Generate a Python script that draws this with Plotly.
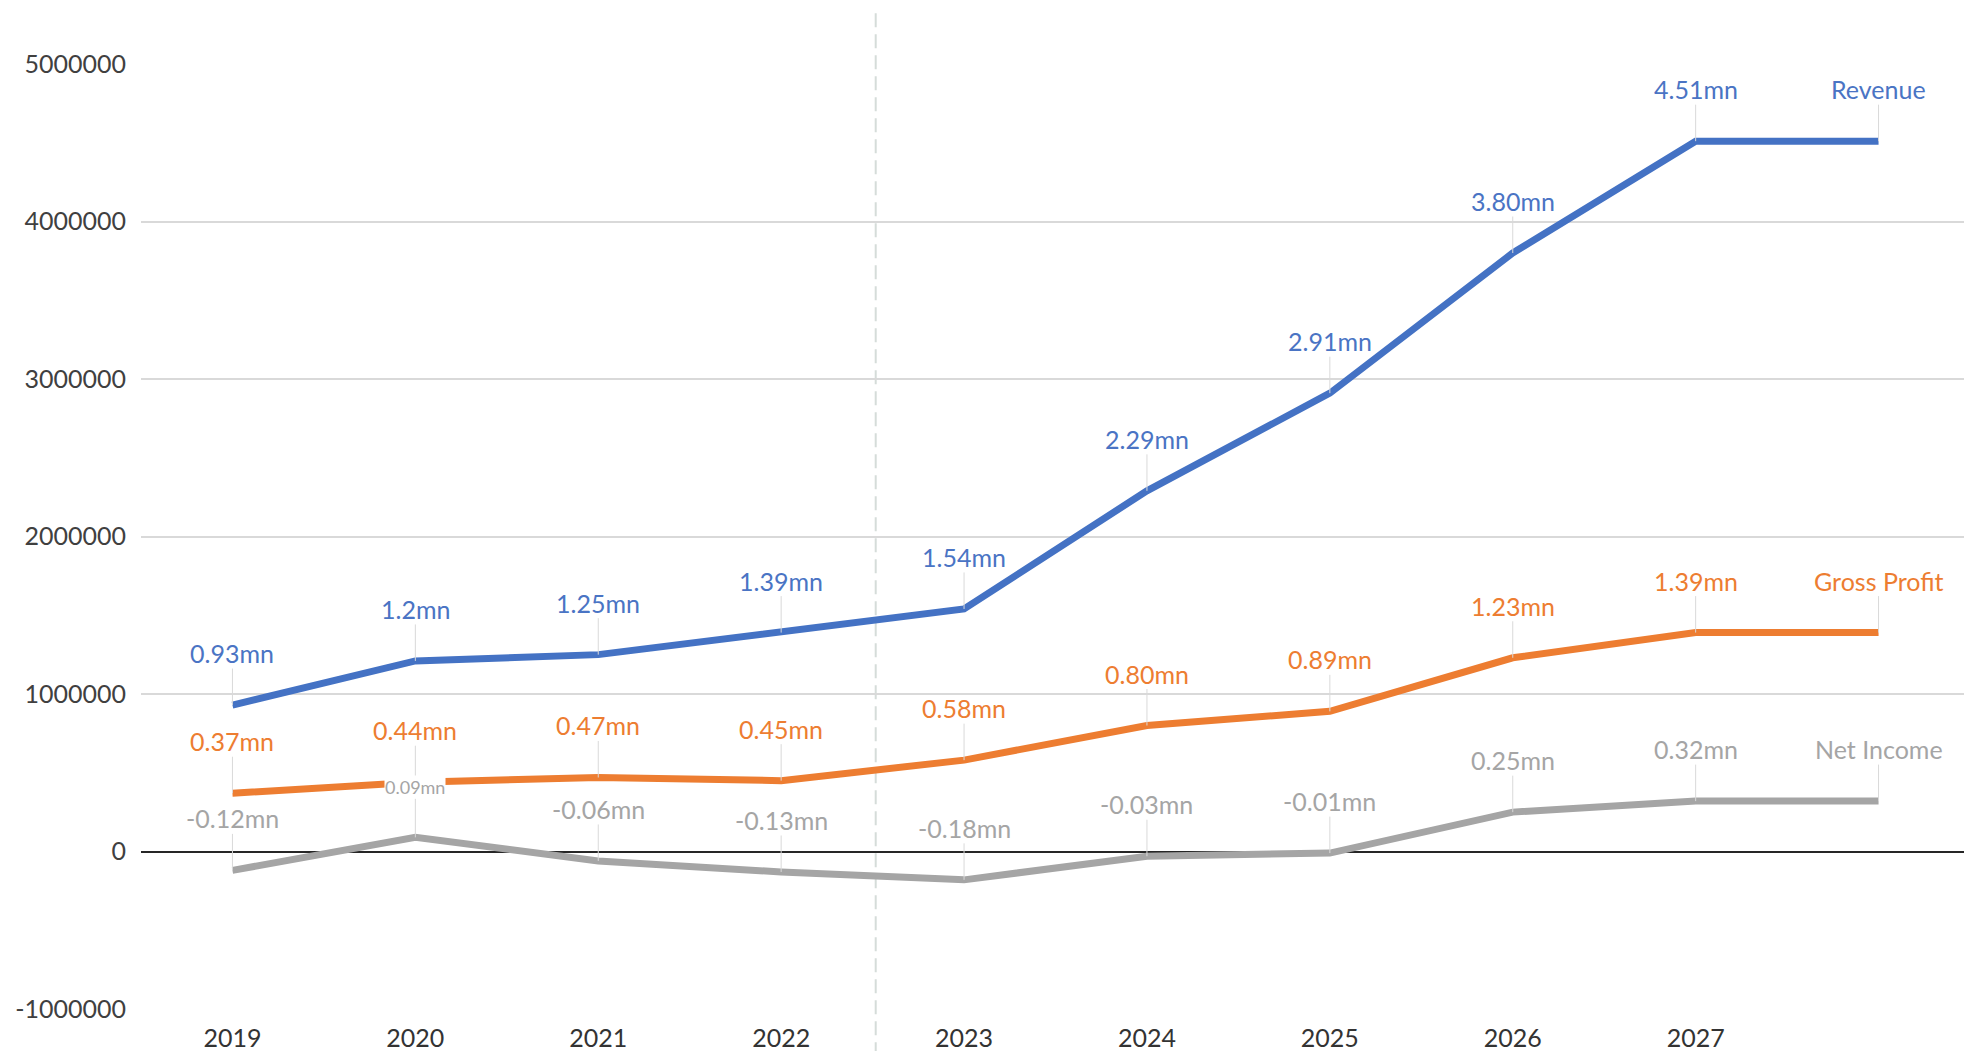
import plotly.graph_objects as go

categories = ["2019", "2020", "2021", "2022", "2023", "2024", "2025", "2026", "2027", " "]

revenue = [930000, 1210000, 1250000, 1390000, 1540000, 2290000, 2910000, 3800000, 4510000, 4510000]
gross_profit = [370000, 440000, 470000, 450000, 580000, 800000, 890000, 1230000, 1390000, 1390000]
net_income = [-120000, 90000, -60000, -130000, -180000, -30000, -10000, 250000, 320000, 320000]

revenue_labels = ["0.93mn", "1.2mn", "1.25mn", "1.39mn", "1.54mn", "2.29mn", "2.91mn", "3.80mn", "4.51mn", "Revenue"]
gross_profit_labels = ["0.37mn", "0.44mn", "0.47mn", "0.45mn", "0.58mn", "0.80mn", "0.89mn", "1.23mn", "1.39mn", "Gross Profit"]
net_income_labels = ["-0.12mn", "0.09mn", "-0.06mn", "-0.13mn", "-0.18mn", "-0.03mn", "-0.01mn", "0.25mn", "0.32mn", "Net Income"]

y_tick_vals = [-1000000, 0, 1000000, 2000000, 3000000, 4000000, 5000000]
y_tick_text = ["-1000000", "0", "1000000", "2000000", "3000000", "4000000", "5000000"]

FONT = "Lato"
series = [
    ("Revenue", revenue, revenue_labels, "#4472C4", "#4a74c4"),
    ("Gross Profit", gross_profit, gross_profit_labels, "#ED7D31", "#ED7D31"),
    ("Net Income", net_income, net_income_labels, "#A5A5A5", "#A5A5A5"),
]

fig = go.Figure()
annotations = []
for name, vals, labels, color, tcolor in series:
    fig.add_trace(go.Scatter(
        x=categories, y=vals, mode="lines", name=name,
        line=dict(color=color, width=7), hoverinfo="skip",
    ))
    for i, (v, lab) in enumerate(zip(vals, labels)):
        small = (name == "Net Income" and i == 1)
        ann = dict(
            x=i, y=v, xref="x", yref="y", text=lab,
            showarrow=True, arrowhead=0, arrowwidth=1, arrowcolor="#d9d9d9",
            ax=0, ay=-50 if small else -52, standoff=0,
            font=dict(family=FONT, size=18 if small else 25, color=tcolor),
            borderpad=0,
        )
        if small:
            ann["bgcolor"] = "white"
        annotations.append(ann)

fig.add_shape(type="line", xref="x", yref="paper", x0=3.517, x1=3.517, y0=-0.05, y1=1.058,
              line=dict(color="#d5dcd9", width=2, dash="14px,7px"), layer="below")

fig.update_layout(
    width=1964, height=1043,
    margin=dict(l=133, r=2, t=56, b=42),
    paper_bgcolor="white", plot_bgcolor="white",
    showlegend=False,
    font=dict(family=FONT, size=25, color="#404040"),
    annotations=annotations,
)
fig.update_xaxes(
    type="category", range=[-0.5, 9.5], showgrid=False, zeroline=False,
    showline=False, ticks="", automargin=False,
    tickfont=dict(family=FONT, size=25, color="#333333"),
    ticklabelstandoff=12,
)
fig.update_yaxes(
    range=[-1000000, 5000000], tickvals=y_tick_vals, ticktext=y_tick_text,
    showgrid=True, gridcolor="#d9d9d9", gridwidth=2,
    zeroline=True, zerolinecolor="#262626", zerolinewidth=2,
    showline=False, ticks="", automargin=False,
    tickfont=dict(family=FONT, size=25, color="#404040"),
    ticklabelstandoff=14,
)

fig.write_html("out.html")
